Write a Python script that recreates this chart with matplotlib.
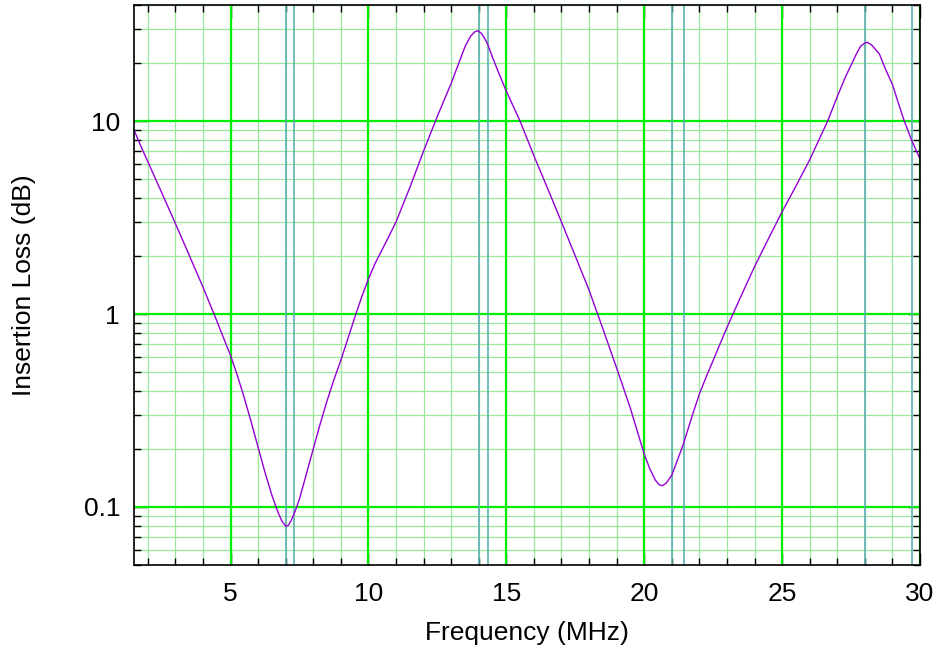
import matplotlib
matplotlib.use("Agg")
import matplotlib.pyplot as plt
from matplotlib.ticker import FixedLocator, NullFormatter, FuncFormatter

plt.rcParams['font.family'] = ['Liberation Sans', 'DejaVu Sans']

freq_mhz = [1.5, 1.75, 2.0, 2.5, 3.0, 3.5, 4.0, 4.5, 5.0, 5.25, 5.5, 5.75, 6.0,
            6.25, 6.5, 6.7, 6.85, 7.0, 7.1, 7.2, 7.35, 7.5, 7.75, 8.0, 8.25,
            8.5, 8.75, 9.0, 9.25, 9.5, 9.75, 10.0, 10.25, 10.5, 10.75, 11.0,
            11.5, 12.0, 12.5, 13.0, 13.25, 13.5, 13.7, 13.85, 13.97, 14.1,
            14.25, 14.33, 14.5, 14.75, 15.0, 15.5, 16.0, 16.5, 17.0, 17.5, 18.0,
            18.5, 19.0, 19.5, 20.0, 20.2, 20.4, 20.55, 20.67, 20.8, 21.0, 21.2,
            21.42, 21.75, 22.0, 22.25, 22.5, 22.75, 23.0, 23.5, 24.0, 24.5, 25.0,
            25.5, 26.0, 26.3, 26.65, 27.0, 27.3, 27.5, 27.68, 27.85, 28.0, 28.1,
            28.25, 28.4, 28.52, 28.75, 29.0, 29.2, 29.42, 29.7, 30.0]
loss_db = [9.0, 7.41, 6.17, 4.27, 2.95, 2.02, 1.38, 0.923, 0.61, 0.479, 0.367,
           0.275, 0.204, 0.151, 0.115, 0.0955, 0.0851, 0.0794, 0.0804, 0.0851,
           0.0955, 0.110, 0.148, 0.200, 0.269, 0.355, 0.457, 0.575, 0.741,
           0.955, 1.22, 1.52, 1.84, 2.16, 2.54, 3.0, 4.52, 7.0, 10.6, 15.7,
           19.5, 24.3, 27.5, 29.0, 29.4, 28.5, 26.3, 24.9, 21.4, 17.4, 14.3,
           10.0, 6.61, 4.47, 3.0, 2.0, 1.33, 0.84, 0.525, 0.324, 0.188, 0.158,
           0.138, 0.130, 0.129, 0.133, 0.146, 0.174, 0.212, 0.30, 0.385, 0.473,
           0.575, 0.70, 0.851, 1.23, 1.76, 2.45, 3.39, 4.60, 6.30, 7.80, 10.0,
           13.4, 17.0, 19.5, 22.1, 24.5, 25.4, 25.6, 24.8, 23.4, 22.4, 18.6,
           15.5, 12.6, 10.1, 7.94, 6.38]

band_edges_mhz = [7.0, 7.3, 14.0, 14.35, 21.0, 21.45, 28.0, 29.7]
x_major = [5, 10, 15, 20, 25, 30]
x_minor = list(range(2, 31))
y_major = [0.1, 1, 10]

fig = plt.figure(figsize=(9.42, 6.5), dpi=100)
ax = fig.add_axes([134/942, 1-565/650, (920-134)/942, (565-5)/650])
ax.set_yscale('log')
ax.set_xlim(1.5, 30)
ax.set_ylim(0.05, 40)

minor_col = '#9be89b'
major_col = '#00ee00'
for xv in x_minor:
    ax.axvline(xv, color=minor_col, lw=0.9, zorder=1)
ymin_minor = []
for dec in [0.01, 0.1, 1, 10]:
    for m in range(2, 10):
        v = dec * m
        if 0.05 <= v <= 40:
            ymin_minor.append(v)
for yv in ymin_minor:
    ax.axhline(yv, color=minor_col, lw=0.9, zorder=1)
for xv in x_major:
    ax.axvline(xv, color=major_col, lw=1.6, zorder=2)
for yv in y_major:
    ax.axhline(yv, color=major_col, lw=1.6, zorder=2)
for xv in band_edges_mhz:
    ax.axvline(xv, color='#5cb0b0', lw=1.2, zorder=3)

ax.plot(freq_mhz, loss_db, color='#9400d3', lw=1.0, zorder=4)

ax.xaxis.set_major_locator(FixedLocator(x_major))
ax.xaxis.set_minor_locator(FixedLocator(x_minor))
ax.xaxis.set_minor_formatter(NullFormatter())
ax.yaxis.set_major_locator(FixedLocator(y_major))
ax.yaxis.set_minor_locator(FixedLocator(ymin_minor))
ax.yaxis.set_minor_formatter(NullFormatter())
ax.yaxis.set_major_formatter(FuncFormatter(lambda v, p: '%g' % v))

ax.tick_params(which='both', direction='in', top=True, right=True, labelsize=19,
               color='black')
ax.tick_params(which='major', length=9, width=1.0)
ax.tick_params(which='minor', length=5, width=1.0)
ax.tick_params(axis='x', which='major', pad=12)
ax.tick_params(axis='y', which='major', pad=10)

for s in ax.spines.values():
    s.set_linewidth(1.2)
    s.set_zorder(5)

ax.set_xlabel('Frequency (MHz)', fontsize=19, labelpad=11)
ax.set_ylabel('Insertion Loss (dB)', fontsize=19, labelpad=34)

fig.savefig('out.png', dpi=100)
